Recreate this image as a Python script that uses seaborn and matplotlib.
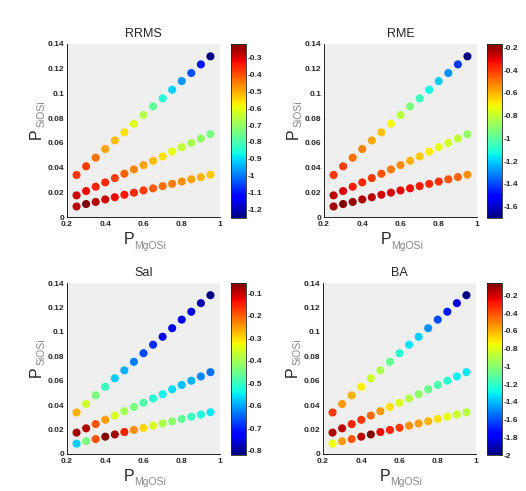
import numpy as np
import pandas as pd
import matplotlib
matplotlib.use('Agg')
import matplotlib.pyplot as plt
import seaborn as sns
from matplotlib.ticker import FuncFormatter

sns.set_style('white')
plt.rcParams['font.family'] = ['Liberation Sans', 'DejaVu Sans']
TICK_FONT = ['Liberation Sans Narrow', 'Liberation Sans', 'DejaVu Sans']

p_mgosi = [0.25, 0.30, 0.35, 0.40, 0.45, 0.50, 0.55, 0.60, 0.65, 0.70, 0.75, 0.80, 0.85, 0.90, 0.95]
p_siosi_top = [0.034, 0.041, 0.048, 0.055, 0.062, 0.0685, 0.0755, 0.0825, 0.0895, 0.096, 0.103, 0.110, 0.1165, 0.1235, 0.130]
p_siosi_mid = [0.0175, 0.021, 0.0245, 0.028, 0.0315, 0.035, 0.0385, 0.042, 0.0455, 0.049, 0.053, 0.0565, 0.060, 0.0635, 0.067]
p_siosi_low = [0.0085, 0.0105, 0.0122, 0.0142, 0.016, 0.018, 0.0197, 0.0215, 0.0232, 0.025, 0.0268, 0.0287, 0.0305, 0.0323, 0.0342]

rrms_top = [-0.37, -0.38, -0.44, -0.49, -0.52, -0.56, -0.61, -0.67, -0.77, -0.84, -0.91, -0.97, -1.04, -1.10, -1.25]
rrms_mid = [-0.29, -0.32, -0.35, -0.36, -0.38, -0.42, -0.46, -0.49, -0.52, -0.56, -0.60, -0.65, -0.68, -0.71, -0.74]
rrms_low = [-0.27, -0.22, -0.27, -0.29, -0.32, -0.34, -0.36, -0.38, -0.41, -0.43, -0.45, -0.47, -0.49, -0.51, -0.53]

rme_top = [-0.40, -0.41, -0.49, -0.52, -0.58, -0.63, -0.71, -0.83, -0.94, -1.06, -1.13, -1.20, -1.29, -1.42, -1.70]
rme_mid = [-0.25, -0.29, -0.35, -0.37, -0.40, -0.45, -0.51, -0.54, -0.60, -0.64, -0.69, -0.74, -0.77, -0.81, -0.89]
rme_low = [-0.22, -0.17, -0.20, -0.23, -0.25, -0.28, -0.29, -0.31, -0.32, -0.35, -0.37, -0.38, -0.45, -0.48, -0.54]

sai_top = [-0.27, -0.36, -0.44, -0.50, -0.57, -0.59, -0.63, -0.67, -0.69, -0.72, -0.73, -0.75, -0.75, -0.79, -0.82]
sai_mid = [-0.08, -0.09, -0.19, -0.25, -0.35, -0.40, -0.44, -0.48, -0.52, -0.54, -0.56, -0.58, -0.59, -0.62, -0.64]
sai_low = [-0.57, -0.44, -0.19, -0.055, -0.08, -0.15, -0.24, -0.30, -0.35, -0.39, -0.42, -0.46, -0.50, -0.53, -0.55]

ba_top = [-0.35, -0.55, -0.60, -0.72, -0.84, -0.93, -1.09, -1.22, -1.32, -1.36, -1.48, -1.61, -1.71, -1.84, -2.0]
ba_mid = [-0.14, -0.16, -0.31, -0.35, -0.45, -0.55, -0.70, -0.80, -0.89, -0.99, -1.07, -1.15, -1.22, -1.30, -1.32]
ba_low = [-0.76, -0.56, -0.41, -0.16, -0.06, -0.25, -0.31, -0.35, -0.53, -0.56, -0.60, -0.70, -0.78, -0.84, -0.89]

titles = ['RRMS', 'RME', 'SaI', 'BA']
values = [(rrms_top, rrms_mid, rrms_low), (rme_top, rme_mid, rme_low),
          (sai_top, sai_mid, sai_low), (ba_top, ba_mid, ba_low)]
cbar_ticks = [np.arange(-1.2, -0.25, 0.1), np.arange(-1.6, -0.15, 0.2),
              np.arange(-0.8, -0.05, 0.1), np.arange(-2.0, -0.15, 0.2)]

W, H = 526, 491
fig = plt.figure(figsize=(W / 100, H / 100), dpi=100)
jet = plt.get_cmap('jet')

# pixel boxes: (left, top, width, height) for axes, left for colorbar
boxes = [(67, 44, 153, 173, 231), (324, 44, 153, 173, 487),
         (67, 283, 153, 171, 231), (323, 283, 153, 171, 487)]

def fig_rect(l, t, w, h):
    return [l / W, 1 - (t + h) / H, w / W, h / H]

def g_fmt(v, pos):
    return '%g' % round(v, 2)

for title, vals, cticks, (l, t, w, h, cl) in zip(titles, values, cbar_ticks, boxes):
    df = pd.DataFrame({
        'x': p_mgosi * 3,
        'y': p_siosi_top + p_siosi_mid + p_siosi_low,
        'v': vals[0] + vals[1] + vals[2],
    })
    vmin, vmax = df['v'].min(), df['v'].max()
    ax = fig.add_axes(fig_rect(l, t, w, h))
    ax.set_facecolor('#efefef')
    sns.scatterplot(data=df, x='x', y='y', hue='v', palette=jet,
                    hue_norm=(vmin, vmax), s=34, edgecolor='none',
                    legend=False, ax=ax)
    ax.set_xlim(0.2, 1)
    ax.set_ylim(0, 0.14)
    ax.set_xticks([0.2, 0.4, 0.6, 0.8, 1.0])
    ax.set_yticks(np.arange(0, 0.141, 0.02))
    ax.xaxis.set_major_formatter(FuncFormatter(g_fmt))
    ax.yaxis.set_major_formatter(FuncFormatter(g_fmt))
    ax.tick_params(direction='in', length=2, width=0.6, labelsize=6, pad=2)
    ax.tick_params(axis='x', pad=3)
    for lab in ax.get_xticklabels() + ax.get_yticklabels():
        lab.set_fontweight('bold')
        lab.set_family(TICK_FONT)
    for side in ['top', 'right']:
        ax.spines[side].set_visible(False)
    for side in ['left', 'bottom']:
        ax.spines[side].set_linewidth(0.6)
        ax.spines[side].set_color('black')
    ax.set_xlabel('')
    ax.set_ylabel('')
    ax.set_title(title, fontsize=9, pad=5)

    # axis labels: big P with grey subscript
    ax.text(0.37, -0.13, 'P', transform=ax.transAxes, fontsize=11.5,
            ha='left', va='center')
    ax.text(0.44, -0.165, 'MgOSi', transform=ax.transAxes, fontsize=7.5,
            color='#888888', ha='left', va='center')
    ax.text(-0.2, 0.45, 'P', transform=ax.transAxes, fontsize=11.5,
            rotation=90, ha='center', va='bottom')
    ax.text(-0.165, 0.52, 'SiOSi', transform=ax.transAxes, fontsize=7.5,
            rotation=90, color='#888888', ha='center', va='bottom')

    cax = fig.add_axes(fig_rect(cl, t, 15, h + 1))
    sm = plt.cm.ScalarMappable(cmap=jet, norm=plt.Normalize(vmin, vmax))
    cb = fig.colorbar(sm, cax=cax)
    cb.set_ticks(cticks)
    cb.ax.yaxis.set_major_formatter(FuncFormatter(g_fmt))
    cb.ax.tick_params(direction='in', length=2, width=0.6, labelsize=6, pad=1)
    for lab in cb.ax.get_yticklabels():
        lab.set_fontweight('bold')
        lab.set_family(TICK_FONT)
    cb.outline.set_linewidth(0.6)

fig.savefig('out.png', dpi=100, facecolor='white')
